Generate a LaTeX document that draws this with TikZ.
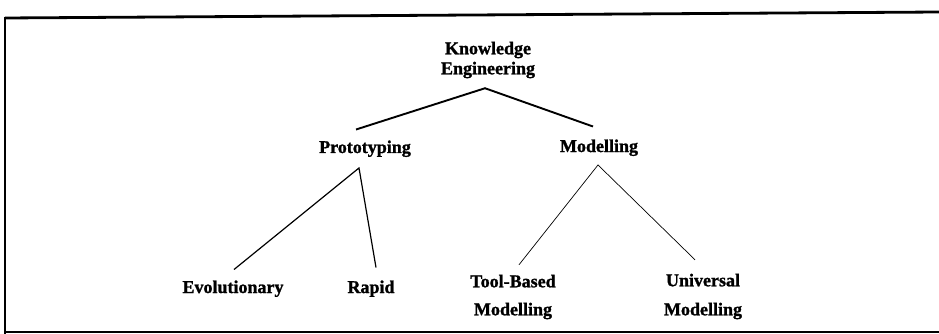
\documentclass[tikz,border=0pt]{standalone}
\usepackage{fontspec}
\setmainfont{Liberation Serif}[BoldFeatures={FakeBold=1.3}]
\begin{document}
\begin{tikzpicture}[x=1pt,y=-1pt,
  lbl/.style={font=\bfseries\fontsize{18}{20}\selectfont, inner sep=0pt, outer sep=0pt, align=center},
  thick1/.style={line width=1.9pt},
  thick2/.style={line width=1.2pt},
  thin1/.style={line width=0.7pt},
  frame/.style={line width=2.8pt}]
\useasboundingbox (0,0) rectangle (939,334);
% frame
\draw[frame] (5,18) -- (939,12);
\draw[frame] (5,17) -- (5,334);
\draw[frame] (5,332) -- (939,332);
% nodes
\node[lbl] (ke) at (488,60) {Knowledge\\Engineering};
\node[lbl, anchor=base] (proto) at (365,153) {Prototyping};
\node[lbl, anchor=base] (mod) at (599,152) {Modelling};
\node[lbl, anchor=base] (evo) at (233,293) {Evolutionary};
\node[lbl, anchor=base] (rapid) at (371,293) {Rapid};
\node[lbl] (tool) at (513,297) {Tool-Based\\[8pt]Modelling};
\node[lbl] (univ) at (703,296.5) {Universal\\[9pt]Modelling};
% connectors
\draw[thick1] ([xshift=-9pt,yshift=11pt]proto.north) -- ([xshift=-3pt,yshift=-10pt]ke.south) -- ([xshift=-6pt,yshift=13pt]mod.north);
\draw[thick2] ([xshift=1pt,yshift=11pt]evo.north) -- ([xshift=-6pt,yshift=-11pt]proto.south) -- ([xshift=5pt,yshift=13pt]rapid.north);
\draw[thin1] ([xshift=6pt,yshift=10pt]tool.north) -- ([xshift=-1pt,yshift=-9pt]mod.south) -- ([xshift=-8pt,yshift=14pt]univ.north);
\end{tikzpicture}
\end{document}
